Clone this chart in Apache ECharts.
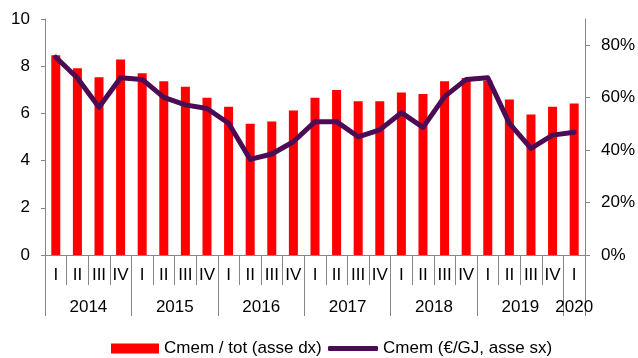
<!DOCTYPE html>
<html>
<head>
<meta charset="utf-8">
<script src="https://cdn.jsdelivr.net/npm/echarts@6/dist/echarts.min.js"></script>
<style>
html,body{margin:0;padding:0;background:#fff;}
#c{width:638px;height:358px;}
</style>
</head>
<body>
<div id="c"></div>
<script>
const quarters = ['I','II','III','IV','I','II','III','IV','I','II','III','IV','I','II','III','IV','I','II','III','IV','I','II','III','IV','I'];
const years = ['2014','2014','2014','2014','2015','2015','2015','2015','2016','2016','2016','2016','2017','2017','2017','2017','2018','2018','2018','2018','2019','2019','2019','2019','2020'];
const shareValues = [76.2, 71.2, 67.8, 74.6, 69.3, 66.3, 64.2, 60.0, 56.5, 50.1, 50.9, 55.1, 60.0, 62.9, 58.6, 58.6, 62.0, 61.4, 66.3, 67.5, 66.5, 59.3, 53.6, 56.5, 57.8];
const costValues = [8.38, 7.5, 6.26, 7.51, 7.44, 6.68, 6.36, 6.21, 5.58, 4.05, 4.28, 4.80, 5.65, 5.65, 5.01, 5.30, 6.03, 5.41, 6.71, 7.44, 7.51, 5.58, 4.52, 5.08, 5.20];
const leftTicks = [0, 2, 4, 6, 8, 10];
const rightTicks = [0, 20, 40, 60, 80];
const barName = 'Cmem / tot (asse dx)';
const lineName = 'Cmem (€/GJ, asse sx)';

const FONT = 'Liberation Sans, Arial, sans-serif';
const GRAY = '#868686';
const FS = 17;
const chart = echarts.init(document.getElementById('c'));
chart.setOption({
  animation: false,
  textStyle: {fontFamily: FONT},
  grid: {left: 45, right: 51, top: 19, bottom: 103, containLabel: false},
  legend: [
    {data: [{name: barName, icon: 'rect'}], left: 111, top: 340, padding: 0, itemWidth: 48, itemHeight: 10,
     textStyle: {fontFamily: FONT, fontSize: FS, color: '#000'}},
    {data: [{name: lineName, icon: 'roundRect'}], left: 328, top: 340, padding: 0, itemWidth: 50, itemHeight: 5,
     textStyle: {fontFamily: FONT, fontSize: FS, color: '#000'}}
  ],
  xAxis: [
    {type: 'category', data: quarters, position: 'bottom', offset: 0, boundaryGap: true,
     axisLine: {show: true, lineStyle: {color: GRAY, width: 1}},
     axisTick: {show: true, interval: 0, length: 30, lineStyle: {color: GRAY}},
     axisLabel: {interval: 0, margin: 12, fontSize: FS, color: '#000', fontFamily: FONT}},
    {type: 'category', data: years, position: 'bottom', offset: 0, boundaryGap: true,
     axisLine: {show: false},
     axisTick: {show: true, interval: function (i) { return i % 4 === 0; }, length: 61, lineStyle: {color: GRAY}},
     axisLabel: {interval: function (i) { return i % 4 === 1 || i === 24; }, margin: 44, fontSize: FS, color: '#000', fontFamily: FONT,
       formatter: function (v, i) { return i === 24 ? '{b|' + v + '}' : '{a|' + v + '}'; },
       rich: {a: {padding: [0, 0, 0, 22], fontSize: FS, fontFamily: FONT, color: '#000'}, b: {fontSize: FS, fontFamily: FONT, color: '#000'}}}}
  ],
  yAxis: [
    {type: 'value', position: 'left', min: 0, max: 10, interval: 2,
     splitLine: {show: false},
     axisLine: {show: true, lineStyle: {color: GRAY}},
     axisTick: {show: true, length: 4, lineStyle: {color: GRAY}, customValues: leftTicks},
     axisLabel: {margin: 15, fontSize: FS, color: '#000', fontFamily: FONT, customValues: leftTicks}},
    {type: 'value', position: 'right', min: 0, max: 90, interval: 20,
     splitLine: {show: false},
     axisLine: {show: true, lineStyle: {color: GRAY}},
     axisTick: {show: true, length: 5, lineStyle: {color: GRAY}, customValues: rightTicks},
     axisLabel: {margin: 16, fontSize: FS, color: '#000', fontFamily: FONT, customValues: rightTicks, formatter: '{value}%'}}
  ],
  series: [
    {name: barName, type: 'bar', xAxisIndex: 0, yAxisIndex: 1, data: shareValues, barWidth: 9,
     itemStyle: {color: '#FF0000'}},
    {name: lineName, type: 'line', xAxisIndex: 0, yAxisIndex: 0, data: costValues, showSymbol: false, symbol: 'none',
     lineStyle: {color: '#4B0C55', width: 5, cap: 'round', join: 'round'}, itemStyle: {color: '#4B0C55'}}
  ]
});
</script>
</body>
</html>
